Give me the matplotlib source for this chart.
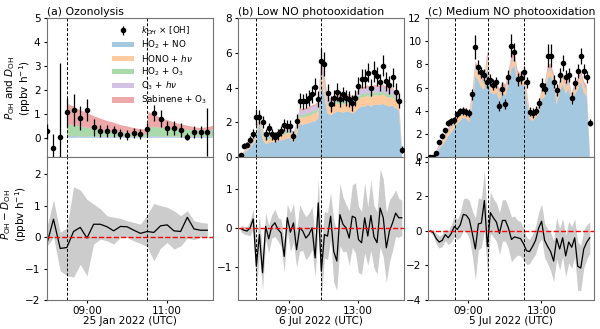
import numpy as np
import matplotlib
matplotlib.use('Agg')
import matplotlib.pyplot as plt

plt.rcParams['font.family'] = 'DejaVu Sans'
plt.rcParams['axes.edgecolor'] = '0.45'
plt.rcParams['xtick.labelsize'] = 7.5
plt.rcParams['ytick.labelsize'] = 7.5
plt.rcParams['xtick.major.size'] = 2.5
plt.rcParams['ytick.major.size'] = 2.5
plt.rcParams['xtick.major.pad'] = 1.5
plt.rcParams['ytick.major.pad'] = 2

src_labels = ['HO$_2$ + NO', 'HONO + $h\\nu$', 'HO$_2$ + O$_3$', 'O$_3$ + $h\\nu$', 'Sabinene + O$_3$']
src_colors = ['tab:blue', 'tab:orange', 'tab:green', 'tab:purple', 'tab:red']

# ---- (a) ozonolysis, 25 Jan 2022, 10 min data from 08:00 ----
t_a = np.arange(8.0, 12.01, 1 / 6)
oh_a = [0.27, -0.44, 0.04, 1.07, 1.16, 0.84, 1.16, 0.44, 0.29, 0.29, 0.27, 0.16, 0.12,
        0.20, 0.16, 0.37, 1.04, 0.80, 0.41, 0.40, 0.33, 0.04, 0.23, 0.23, 0.23]
oh_err_a = [0.3, 0.6, 3.1, 0.6, 0.65, 0.5, 0.45, 0.35, 0.25, 0.25, 0.22, 0.2, 0.2,
            0.22, 0.2, 0.25, 0.35, 0.35, 0.3, 0.3, 0.28, 0.15, 0.25, 0.25, 1.0]
t_a_src = [8.0, 8.5, 8.53, 8.67, 8.83, 9.0, 9.17, 9.33, 9.5, 9.67, 9.83, 10.0, 10.17,
           10.33, 10.5, 10.53, 10.67, 10.83, 11.0, 11.17, 11.33, 11.5, 11.67, 11.83, 12.0, 12.14]
ho2no_a = [0, 0, 0.07, 0.07, 0.06, 0.06, 0.05, 0.05, 0.05, 0.04, 0.04, 0.04, 0.03,
           0.03, 0.03, 0.06, 0.06, 0.05, 0.05, 0.05, 0.04, 0.04, 0.04, 0.04, 0.04, 0.04]
hono_a = [0, 0, 0.01, 0.01, 0.01, 0.01, 0.01, 0.01, 0.01, 0.01, 0.01, 0.01, 0.01,
          0.01, 0.01, 0.01, 0.01, 0.01, 0.01, 0.01, 0.01, 0.01, 0.01, 0.01, 0.01, 0.01]
ho2o3_a = [0, 0, 0.47, 0.44, 0.41, 0.35, 0.30, 0.26, 0.22, 0.20, 0.17, 0.15, 0.14,
           0.12, 0.11, 0.38, 0.38, 0.36, 0.34, 0.31, 0.30, 0.28, 0.27, 0.25, 0.25, 0.27]
o3hv_a = [0, 0, 0.005, 0.005, 0.005, 0.005, 0.005, 0.005, 0.005, 0.005, 0.005, 0.005, 0.005,
          0.005, 0.005, 0.005, 0.005, 0.005, 0.005, 0.005, 0.005, 0.005, 0.005, 0.005, 0.005, 0.005]
sab_a = [0, 0, 0.85, 0.78, 0.67, 0.61, 0.54, 0.48, 0.42, 0.38, 0.31, 0.27, 0.22,
         0.20, 0.18, 0.62, 0.52, 0.42, 0.33, 0.26, 0.22, 0.17, 0.12, 0.10, 0.14, 0.17]
diff_a = [-0.22, 0.57, -0.36, -0.33, 0.18, 0.31, -0.03, 0.41, 0.41, 0.33, 0.20, 0.34, 0.33,
          0.22, 0.12, 0.18, 0.15, 0.36, 0.39, 0.20, 0.18, 0.63, 0.26, 0.22, 0.22]
diff_hi_a = [0.3, 1.18, 0.15, 0.3, 1.6, 1.5, 1.2, 1.05, 0.9, 0.68, 0.63, 0.6, 0.52,
             0.47, 0.41, 0.71, 1.07, 1.0, 0.95, 0.84, 0.68, 0.84, 0.52, 0.47, 0.44]
diff_lo_a = [-0.3, 0.0, -1.07, -1.23, -1.27, -0.86, -1.23, -0.22, -0.06, -0.12, -0.22, -0.01, -0.01,
             -0.12, -0.2, -0.3, -0.75, -0.35, -0.17, -0.38, -0.28, -0.03, -0.08, -0.01, -0.01]

# ---- (b) low NO photooxidation, 6 Jul 2022 ----
oh_b = [0.1, 0.65, 0.7, 1.0, 1.35, 2.3, 2.3, 2.0, 1.3, 1.65,
        1.3, 1.15, 1.3, 1.5, 1.85, 1.8, 1.8, 1.2, 2.05, 3.25,
        3.2, 3.25, 3.4, 3.6, 4.05, 3.35, 5.5, 5.35, 3.7, 3.05,
        3.4, 3.75, 3.35, 3.6, 3.4, 3.35, 3.1, 3.4, 4.1, 4.5,
        4.5, 4.85, 4.0, 4.9, 4.65, 4.3, 5.25, 4.35, 4.15, 4.6,
        3.75, 3.25, 0.42]
oh_err_b = [0.1, 0.15, 0.15, 0.2, 0.25, 0.45, 0.4, 0.35, 0.3, 0.3,
            0.3, 0.3, 0.3, 0.3, 0.35, 0.35, 0.35, 0.3, 0.4, 0.45,
            0.45, 0.45, 0.45, 0.5, 0.5, 0.45, 0.8, 0.7, 0.5, 0.45,
            0.45, 0.5, 0.45, 0.45, 0.45, 0.45, 0.45, 0.45, 0.5, 0.55,
            0.55, 0.55, 0.5, 0.6, 0.55, 0.5, 0.6, 0.55, 0.5, 0.55,
            0.5, 0.45, 0.2]
ho2no_b = [0.05, 0.2, 0.35, 0.5, 0.75, 1.0, 2.0, 1.05, 0.75, 0.8,
           0.85, 0.85, 0.9, 0.95, 1.0, 1.05, 1.1, 0.8, 1.25, 1.9,
           1.85, 1.9, 1.95, 2.0, 2.05, 2.2, 4.3, 3.5, 2.5, 2.4,
           2.5, 2.6, 2.6, 2.55, 2.6, 2.6, 2.5, 2.6, 2.8, 2.9,
           2.9, 3.0, 2.9, 3.0, 3.0, 3.0, 3.05, 2.95, 2.9, 2.95,
           2.8, 2.7, 0.35]
hono_b = [0.02, 0.05, 0.08, 0.1, 0.12, 0.2, 0.35, 0.25, 0.2, 0.2,
          0.22, 0.22, 0.25, 0.25, 0.28, 0.3, 0.3, 0.25, 0.3, 0.4,
          0.4, 0.42, 0.42, 0.45, 0.45, 0.45, 0.6, 0.55, 0.45, 0.45,
          0.45, 0.48, 0.45, 0.45, 0.48, 0.5, 0.45, 0.48, 0.5, 0.55,
          0.55, 0.55, 0.5, 0.55, 0.55, 0.52, 0.55, 0.5, 0.5, 0.5,
          0.45, 0.45, 0.08]
ho2o3_b = [0.01, 0.03, 0.04, 0.05, 0.06, 0.08, 0.12, 0.1, 0.1, 0.1,
           0.1, 0.1, 0.1, 0.12, 0.12, 0.12, 0.12, 0.1, 0.12, 0.15,
           0.15, 0.15, 0.15, 0.15, 0.15, 0.15, 0.2, 0.2, 0.15, 0.15,
           0.15, 0.15, 0.15, 0.15, 0.15, 0.15, 0.15, 0.15, 0.18, 0.18,
           0.18, 0.18, 0.18, 0.18, 0.18, 0.18, 0.18, 0.18, 0.18, 0.18,
           0.15, 0.15, 0.05]
o3hv_b = [0.01, 0.03, 0.05, 0.07, 0.1, 0.15, 0.2, 0.15, 0.12, 0.13,
          0.14, 0.14, 0.15, 0.16, 0.17, 0.18, 0.18, 0.15, 0.18, 0.25,
          0.25, 0.25, 0.26, 0.27, 0.28, 0.28, 0.35, 0.32, 0.28, 0.27,
          0.27, 0.28, 0.28, 0.28, 0.28, 0.28, 0.27, 0.28, 0.3, 0.3,
          0.3, 0.3, 0.3, 0.3, 0.3, 0.3, 0.3, 0.28, 0.27, 0.26,
          0.25, 0.22, 0.05]
sab_b = [0.01, 0.02, 0.03, 0.04, 0.05, 0.07, 0.12, 0.08, 0.07, 0.07,
         0.07, 0.07, 0.08, 0.08, 0.08, 0.08, 0.08, 0.07, 0.08, 0.1,
         0.1, 0.1, 0.1, 0.1, 0.1, 0.1, 0.3, 0.2, 0.1, 0.1,
         0.1, 0.1, 0.1, 0.1, 0.1, 0.1, 0.1, 0.1, 0.1, 0.1,
         0.1, 0.1, 0.1, 0.1, 0.1, 0.1, 0.1, 0.1, 0.1, 0.1,
         0.1, 0.1, 0.03]
diff_b = [-0.02, -0.06, -0.08, 0.0, 0.23, -0.98, -0.17, -1.15, 0.04, -0.28,
          0.04, 0.13, -0.04, -0.13, -0.73, 0.26, -0.11, 0.13, -0.56, 0.0,
          -0.08, -0.26, -0.17, 0.0, -0.77, 0.64, -1.11, -0.17, -0.21, 0.3,
          -0.6, -0.85, 0.34, 0.09, 0.0, -0.26, 0.3, 0.26, -0.3, -0.38,
          0.26, -0.21, 0.32, -0.23, -0.38, 0.51, 0.26, -0.51, -0.08, 0.13,
          0.38, 0.26, 0.26]
diff_err_b = [0.08, 0.1, 0.1, 0.2, 0.25, 0.6, 0.5, 0.45, 0.35, 0.35,
              0.3, 0.35, 0.3, 0.35, 0.4, 0.35, 0.5, 0.5, 0.45, 0.6,
              0.5, 0.55, 0.55, 0.55, 0.5, 0.6, 0.7, 0.6, 0.6, 0.6,
              0.8, 0.75, 0.8, 0.7, 0.6, 0.7, 0.8, 0.9, 0.85, 0.8,
              0.9, 0.75, 0.9, 0.8, 0.8, 1.0, 1.0, 0.9, 0.8, 0.7,
              0.6, 0.5, 0.45]
t_b = np.linspace(6.175, 15.55, len(oh_b))

# ---- (c) medium NO photooxidation, 5 Jul 2022 ----
oh_c = [0.0, 0.0, 0.35, 1.3, 1.85, 2.3, 2.9, 3.1, 3.15, 3.7,
        3.95, 4.0, 3.9, 3.8, 5.4, 9.5, 7.8, 7.3, 7.1, 6.45,
        6.65, 6.25, 6.45, 4.4, 5.9, 4.55, 6.9, 9.6, 9.05, 6.7,
        6.85, 7.3, 6.45, 3.9, 3.8, 4.0, 4.65, 6.25, 5.9, 8.75,
        8.75, 6.5, 5.8, 7.1, 8.1, 6.95, 7.05, 5.1, 6.4, 7.45,
        8.7, 7.4, 6.9, 2.95]
oh_err_c = [0.05, 0.05, 0.1, 0.15, 0.2, 0.2, 0.25, 0.3, 0.3, 0.3,
            0.3, 0.35, 0.35, 0.35, 0.45, 1.0, 0.6, 0.5, 0.5, 0.5,
            0.5, 0.5, 0.5, 0.45, 0.55, 0.45, 0.6, 1.0, 0.8, 0.55,
            0.55, 0.6, 0.5, 0.4, 0.4, 0.4, 0.45, 0.55, 0.5, 1.0,
            1.0, 0.55, 0.5, 0.6, 0.7, 0.6, 0.6, 0.5, 0.55, 0.6,
            0.7, 0.6, 0.55, 0.3]
ho2no_c = [0.0, 0.05, 0.3, 0.7, 1.0, 1.35, 1.8, 2.1, 2.5, 2.9,
           3.1, 3.4, 3.3, 3.0, 4.6, 7.0, 6.6, 6.0, 5.8, 7.9,
           5.6, 5.4, 5.6, 4.9, 5.5, 5.3, 6.3, 7.6, 7.9, 6.5,
           6.2, 6.3, 5.0, 3.3, 3.1, 3.4, 3.6, 5.0, 5.2, 6.8,
           7.0, 6.3, 4.5, 5.6, 6.3, 5.5, 5.9, 4.6, 5.4, 5.8,
           6.5, 5.6, 5.2, 0.3]
hono_c = [0.0, 0.02, 0.1, 0.2, 0.25, 0.3, 0.35, 0.4, 0.4, 0.45,
          0.45, 0.45, 0.45, 0.45, 0.5, 0.6, 0.55, 0.5, 0.5, 0.6,
          0.5, 0.5, 0.5, 0.45, 0.5, 0.45, 0.5, 0.55, 0.55, 0.5,
          0.5, 0.5, 0.45, 0.35, 0.35, 0.35, 0.4, 0.45, 0.45, 0.5,
          0.5, 0.45, 0.4, 0.45, 0.5, 0.45, 0.45, 0.4, 0.45, 0.45,
          0.5, 0.45, 0.45, 0.05]
ho2o3_c = [0.0, 0.01, 0.03, 0.05, 0.06, 0.07, 0.08, 0.08, 0.09, 0.09,
           0.1, 0.1, 0.1, 0.1, 0.1, 0.12, 0.12, 0.1, 0.1, 0.12,
           0.1, 0.1, 0.1, 0.1, 0.1, 0.1, 0.1, 0.12, 0.12, 0.1,
           0.1, 0.1, 0.1, 0.08, 0.08, 0.08, 0.08, 0.1, 0.1, 0.1,
           0.1, 0.1, 0.1, 0.1, 0.1, 0.1, 0.1, 0.1, 0.1, 0.1,
           0.1, 0.1, 0.1, 0.02]
o3hv_c = [0.0, 0.01, 0.02, 0.04, 0.05, 0.06, 0.07, 0.08, 0.08, 0.09,
          0.09, 0.1, 0.1, 0.1, 0.1, 0.12, 0.12, 0.1, 0.1, 0.12,
          0.1, 0.1, 0.1, 0.1, 0.1, 0.1, 0.1, 0.12, 0.12, 0.1,
          0.1, 0.1, 0.1, 0.08, 0.08, 0.08, 0.08, 0.1, 0.1, 0.1,
          0.1, 0.1, 0.1, 0.1, 0.1, 0.1, 0.1, 0.1, 0.1, 0.1,
          0.1, 0.1, 0.1, 0.02]
sab_c = [0.0, 0.01, 0.05, 0.1, 0.12, 0.15, 0.18, 0.2, 0.2, 0.22,
         0.22, 0.22, 0.22, 0.22, 0.3, 0.4, 0.35, 0.3, 0.3, 0.45,
         0.3, 0.3, 0.3, 0.28, 0.3, 0.3, 0.32, 0.38, 0.4, 0.32,
         0.3, 0.3, 0.28, 0.22, 0.2, 0.22, 0.24, 0.3, 0.3, 0.35,
         0.38, 0.32, 0.28, 0.3, 0.32, 0.3, 0.3, 0.28, 0.3, 0.3,
         0.35, 0.3, 0.3, 0.03]
diff_c = [0.0, -0.1, -0.45, -0.65, -0.55, -0.22, -0.4, -0.15, 0.25, 0.08,
          0.35, 0.95, 0.9, 0.65, -0.15, -1.05, 0.4, 0.45, 1.75, -0.9,
          1.05, 0.75, 0.5, -0.15, 0.6, 0.6, 0.15, -0.5, -0.35, -0.4,
          -0.45, -0.75, -1.15, -1.2, -0.9, -0.55, 0.15, 0.55, -0.55, -0.9,
          -1.2, -1.75, -0.45, -1.05, -0.4, -1.45, -0.65, -0.95, -0.4, -2.05,
          -2.15, -1.05, -0.65, -0.4]
diff_err_c = [0.1, 0.15, 0.3, 0.35, 0.35, 0.35, 0.4, 0.5, 0.6, 0.6,
              0.7, 0.9, 1.0, 1.1, 1.3, 1.8, 1.5, 1.4, 1.7, 1.5,
              1.2, 1.1, 1.1, 1.2, 1.2, 1.2, 1.2, 1.3, 1.2, 1.0,
              1.0, 0.9, 0.8, 0.7, 0.7, 0.8, 0.9, 1.0, 1.0, 1.0,
              1.1, 1.2, 1.2, 1.2, 1.1, 1.2, 1.2, 1.2, 1.1, 1.4,
              1.3, 1.1, 1.0, 0.9]
t_c = np.linspace(6.95, 15.64, len(oh_c))

panels = [
    dict(title='(a) Ozonolysis', date='25 Jan 2022 (UTC)', left=0.078,
         t=t_a, oh=oh_a, err=oh_err_a, t_src=t_a_src,
         src=[ho2no_a, hono_a, ho2o3_a, o3hv_a, sab_a],
         diff=diff_a, lo=diff_lo_a, hi=diff_hi_a,
         vlines=[8.5, 10.5], xlim=(8.0, 12.14), xticks=[9, 11],
         ylim_top=(-0.8, 5), yt_top=range(0, 6), ylim_bot=(-2, 2.55), yt_bot=range(-2, 3)),
    dict(title='(b) Low NO photooxidation', date='6 Jul 2022 (UTC)', left=0.397,
         t=t_b, oh=oh_b, err=oh_err_b, t_src=t_b,
         src=[ho2no_b, hono_b, ho2o3_b, o3hv_b, sab_b],
         diff=diff_b, lo=np.subtract(diff_b, diff_err_b), hi=np.add(diff_b, diff_err_b),
         vlines=[7.07, 10.85], xlim=(6.02, 15.7), xticks=[9, 13],
         ylim_top=(0, 8), yt_top=range(0, 9, 2), ylim_bot=(-1.85, 1.82), yt_bot=[-1, 0, 1]),
    dict(title='(c) Medium NO photooxidation', date='5 Jul 2022 (UTC)', left=0.713,
         t=t_c, oh=oh_c, err=oh_err_c, t_src=t_c,
         src=[ho2no_c, hono_c, ho2o3_c, o3hv_c, sab_c],
         diff=diff_c, lo=np.subtract(diff_c, diff_err_c), hi=np.add(diff_c, diff_err_c),
         vlines=[8.31, 10.09, 12.05], xlim=(6.82, 15.87), xticks=[9, 13],
         ylim_top=(0, 12), yt_top=range(0, 13, 2), ylim_bot=(-4, 4.27), yt_bot=range(-4, 5, 2)),
]

fig = plt.figure(figsize=(6, 3.29), dpi=100)

for i, p in enumerate(panels):
    ax1 = fig.add_axes([p['left'], 0.523, 0.277, 0.422])
    ax2 = fig.add_axes([p['left'], 0.088, 0.277, 0.435], sharex=ax1)

    ax1.stackplot(p['t_src'], *p['src'], colors=src_colors, alpha=0.4,
                  labels=src_labels, lw=0.8)
    ax1.errorbar(p['t'], p['oh'], yerr=p['err'], fmt='o', color='k', ms=3,
                 elinewidth=0.9, capsize=0, zorder=5, label='$k_{OH}$ × [OH]')

    ax2.fill_between(p['t'], p['lo'], p['hi'], color='0.8', lw=0)
    ax2.plot(p['t'], p['diff'], color='k', lw=0.9)
    ax2.axhline(0, color='red', ls='--', lw=1)

    for ax in (ax1, ax2):
        for v in p['vlines']:
            ax.axvline(v, color='k', ls=(0, (3, 2)), lw=0.7)

    ax1.set_xlim(p['xlim'])
    ax1.set_ylim(p['ylim_top'])
    ax1.set_yticks(list(p['yt_top']))
    ax2.set_ylim(p['ylim_bot'])
    ax2.set_yticks(list(p['yt_bot']))
    ax2.set_xticks(p['xticks'])
    ax2.set_xticklabels(['%02d:00' % h for h in p['xticks']])
    ax1.tick_params(labelbottom=False)
    ax1.set_title(p['title'], loc='left', fontsize=7.8, pad=2)
    ax2.set_xlabel(p['date'], fontsize=7.5, labelpad=0)

    if i == 0:
        ax1.set_ylabel('$P_{\\rm OH}$ and $D_{\\rm OH}$\n(ppbv h$^{-1}$)', fontsize=7.5,
                       linespacing=1.0)
        ax2.set_ylabel('$P_{\\rm OH} - D_{\\rm OH}$\n(ppbv h$^{-1}$)', fontsize=7.5,
                       linespacing=1.0)
        # label anchor is its right-hand edge once rotated
        ax1.yaxis.set_label_coords(-0.085, 0.5)
        ax2.yaxis.set_label_coords(-0.108, 0.6)
        h, l = ax1.get_legend_handles_labels()
        ax1.legend(h[-1:] + h[:-1], l[-1:] + l[:-1], loc='upper right', frameon=False,
                   fontsize=6.3, labelspacing=0.2, handlelength=2.5, handleheight=0.6,
                   borderaxespad=0.3)

fig.savefig('out.png', dpi=100)
